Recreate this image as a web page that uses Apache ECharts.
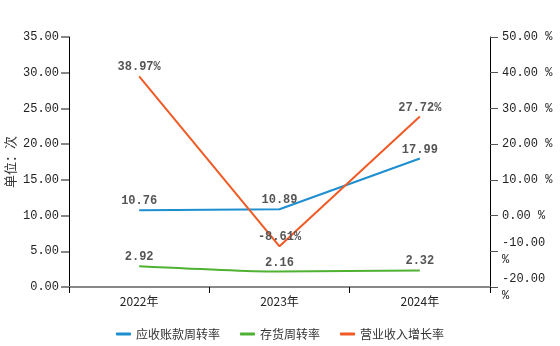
<!DOCTYPE html>
<html><head><meta charset="utf-8">
<script src="https://cdn.jsdelivr.net/npm/echarts@6/dist/echarts.min.js"></script>
<style>html,body{margin:0;padding:0;background:#fff}#c{width:560px;height:346px}</style>
</head><body><div id="c"></div>
<script>
const categories = ['2022年', '2023年', '2024年'];
const receivableTurnover = [10.76, 10.89, 17.99];
const inventoryTurnover = [2.92, 2.16, 2.32];
const revenueGrowth = [38.97, -8.61, 27.72];
const seriesNames = ['应收账款周转率', '存货周转率', '营业收入增长率'];
const leftAxisName = '单位：次';

const chart = echarts.init(document.getElementById('c'));
const mono = '"Liberation Mono","DejaVu Sans Mono",monospace';
const lbl = (fmt) => ({show: true, position: 'top', distance: 3, color: '#555', fontWeight: 'bold', fontSize: 12, fontFamily: mono, formatter: fmt});
const common = {type: 'line', symbol: 'circle', symbolSize: 0, showSymbol: true, lineStyle: {width: 2}};
chart.setOption({
  animation: false,
  color: ['#1d8fd1', '#4fb233', '#f15a24'],
  grid: {left: 69, right: 70, top: 37, bottom: 59, containLabel: false, outerBoundsMode: 'none'},
  legend: {
    bottom: 1, left: 'center', itemGap: 20, itemWidth: 15, itemHeight: 3,
    icon: 'roundRect',
    textStyle: {color: '#333', fontSize: 12, fontFamily: '"Noto Sans CJK SC", sans-serif'},
    data: seriesNames
  },
  xAxis: {
    type: 'category', data: categories, boundaryGap: true,
    axisLine: {lineStyle: {color: '#888', width: 2}},
    axisTick: {show: true, length: 6, lineStyle: {color: '#000'}},
    axisLabel: {color: '#222', fontSize: 12, margin: 8, fontFamily: '"Noto Sans CJK SC", sans-serif'}
  },
  yAxis: [{
    type: 'value', min: 0, max: 35, interval: 5,
    name: leftAxisName, nameLocation: 'middle', nameRotate: 90, nameGap: 52, nameMoveOverlap: false,
    nameTextStyle: {color: '#333', fontSize: 13, fontFamily: '"Noto Sans CJK SC", sans-serif'},
    axisLine: {show: true, lineStyle: {color: '#000'}},
    axisTick: {show: true, length: 8, lineStyle: {color: '#888', width: 2}},
    splitLine: {show: false},
    axisLabel: {color: '#222', fontSize: 12, fontFamily: mono, margin: 10, hideOverlap: false, formatter: v => v.toFixed(2)}
  }, {
    type: 'value', min: -20, max: 50, interval: 10,
    axisLine: {show: true, lineStyle: {color: '#000'}},
    axisTick: {show: true, length: 8, lineStyle: {color: '#555', width: 1}},
    splitLine: {show: false},
    axisLabel: {color: '#222', fontSize: 12, fontFamily: mono, margin: 12, lineHeight: 17, hideOverlap: false,
      formatter: v => v < 0 ? v.toFixed(2) + '\n%' : v.toFixed(2) + ' %'}
  }],
  series: [
    Object.assign({}, common, {name: seriesNames[0], data: receivableTurnover, yAxisIndex: 0, label: lbl(p => p.value.toFixed(2))}),
    Object.assign({}, common, {name: seriesNames[1], data: inventoryTurnover, yAxisIndex: 0, smooth: 0.2, label: lbl(p => p.value.toFixed(2))}),
    Object.assign({}, common, {name: seriesNames[2], data: revenueGrowth, yAxisIndex: 1, label: lbl(p => p.value.toFixed(2) + '%')})
  ]
});
</script></body></html>
